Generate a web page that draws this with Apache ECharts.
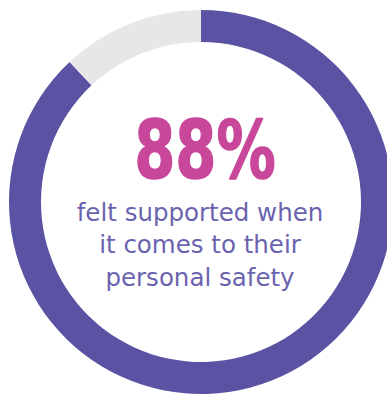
<!DOCTYPE html>
<html><head><meta charset="utf-8">
<script src="https://cdn.jsdelivr.net/npm/echarts@6/dist/echarts.min.js"></script>
<style>html,body{margin:0;padding:0;background:#fff}#c{width:387px;height:396px}</style>
</head><body><div id="c"></div>
<script>
const categories = ['Felt supported', 'Other'];
const values = [88, 12];
const headline = '88%';
const captionLines = ['felt supported when', 'it comes to their', 'personal safety'];

const chart = echarts.init(document.getElementById('c'), null, {renderer: 'svg'});
chart.setOption({
  animation: false,
  series: [{
    type: 'pie',
    center: [201, 202],
    radius: [160, 192],
    startAngle: 90,
    clockwise: true,
    label: {show: false},
    labelLine: {show: false},
    silent: true,
    itemStyle: {borderWidth: 0},
    data: categories.map((c, i) => ({
      name: c, value: values[i],
      itemStyle: {color: i === 0 ? '#5A52A2' : '#E6E7E6'}
    }))
  }],
  graphic: [
    {
      type: 'text', x: 205, y: 151, scaleX: 0.74,
      style: {
        text: headline, fill: '#C8479A',
        font: 'bold 80px "DejaVu Sans"',
        stroke: '#C8479A', lineWidth: 1.5,
        align: 'center', verticalAlign: 'middle'
      }
    },
    ...captionLines.map((t, i) => ({
      type: 'text', x: 200, y: 212 + i * 32.5,
      style: {
        text: t, fill: '#6B63AF',
        font: '24.5px "DejaVu Sans"',
        align: 'center', verticalAlign: 'middle'
      }
    }))
  ]
});
</script></body></html>
